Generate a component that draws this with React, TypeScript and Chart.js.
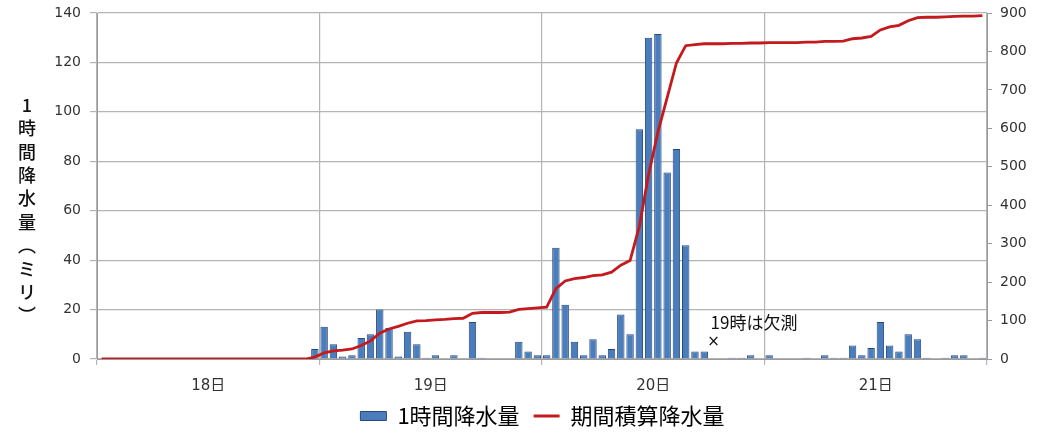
import React, { useEffect, useRef } from 'react';
import { Chart, registerables } from 'chart.js';

Chart.register(...registerables);

// ---- data ----
const dayLabels = ['18日', '19日', '20日', '21日'];
const hoursPerDay = 24;

// 1時間降水量 (mm), hourly slots 18日1時 .. 21日24時 (null = 欠測)
const hourlyRain: (number | null)[] = [
  0, 0, 0, 0, 0, 0, 0, 0, 0, 0, 0, 0, 0, 0, 0, 0, 0, 0, 0, 0, 0, 0, 0, 4,
  13, 6, 1, 1.5, 8.5, 10, 20, 12.5, 1, 11, 6, 0.5, 1.5, 0, 1.5, 0, 15, 0.5, 0, 0, 0, 7, 3, 1.5,
  1.5, 45, 22, 7, 1.5, 8, 1.5, 4, 18, 10, 93, 130, 131.5, 75.5, 85, 46, 3, 3, null, 0, 0.5, 0.5, 1.5, 0,
  1.5, 0, 0, 0, 0.5, 0, 1.5, 0.5, 0.5, 5.5, 1.5, 4.5, 15, 5.5, 3, 10, 8, 0.5, 0, 0.5, 1.5, 1.5, 0, 0.5,
];

// 期間積算降水量 (mm)
const cumulativeRain: number[] = [
  0, 0, 0, 0, 0, 0, 0, 0, 0, 0, 0, 0, 0, 0, 0, 0, 0, 0, 0, 0, 0, 0, 0, 5,
  16, 21, 23, 26, 35, 47, 67, 78, 85, 93, 99, 100, 102, 103, 105, 106, 119, 121, 121, 121, 122, 129, 131, 133,
  135, 183, 203, 209, 212, 217, 219, 226, 244, 256, 345, 480, 590, 680, 770, 815, 818, 820, 820, 820, 821, 821, 822, 822,
  823, 823, 823, 823, 824, 824, 826, 826, 827, 833, 835, 839, 856, 864, 868, 880, 888, 889, 889, 890, 891, 892, 892, 893,
];

const leftTicks = { min: 0, max: 140, step: 20 };
const rightTicks = { min: 0, max: 900, step: 100 };

const yTitleChars = ['1', '時', '間', '降', '水', '量', '︵', 'ミ', 'リ', '︶'];
const seriesNames = ['1時間降水量', '期間積算降水量'];
const missingNote = { text: '19時は欠測', mark: '×', slot: 66, textLevel: 14.8, markLevel: 7 };

// ---- styles ----
const FONT = "'DejaVu Sans', 'Noto Sans CJK JP', sans-serif";
const CJK = "'Noto Sans CJK JP', 'DejaVu Sans', sans-serif";
const BAR_FILL = '#4a7dbb';
const BAR_EDGE = '#27487a';
const LINE_COLOR = '#c41a1d';
const GRID = '#b4b4b4';
const AXIS = '#9a9a9a';
const TICK_TEXT = '#333333';

const yTitlePlugin = {
  id: 'yTitleVertical',
  afterDraw(chart: any) {
    const ctx = chart.ctx;
    ctx.save();
    ctx.fillStyle = '#111';
    ctx.font = `500 18px ${CJK}`;
    ctx.textAlign = 'center';
    ctx.textBaseline = 'middle';
    const y0 = 105;
    const step = 23.4;
    yTitleChars.forEach((c, i) => ctx.fillText(c, 27, y0 + i * step));
    ctx.restore();
  },
};

const notePlugin = {
  id: 'missingNote',
  afterDatasetsDraw(chart: any) {
    const ctx = chart.ctx;
    const xs = chart.scales.x;
    const ys = chart.scales.y;
    const px = xs.getPixelForValue(missingNote.slot + 0.5);
    ctx.save();
    ctx.fillStyle = '#111';
    ctx.font = `17px ${CJK}`;
    ctx.textAlign = 'left';
    ctx.textBaseline = 'middle';
    ctx.fillText(missingNote.text, px - 3, ys.getPixelForValue(missingNote.textLevel));
    ctx.textAlign = 'center';
    ctx.font = `15px ${FONT}`;
    ctx.fillText(missingNote.mark, px, ys.getPixelForValue(missingNote.markLevel));
    ctx.restore();
  },
};

export default function App() {
  const canvasRef = useRef<HTMLCanvasElement | null>(null);

  useEffect(() => {
    document.body.style.margin = '0';
    const canvas = canvasRef.current;
    if (!canvas) return;
    const totalSlots = dayLabels.length * hoursPerDay;

    const chart = new Chart(canvas, {
      type: 'bar',
      data: {
        datasets: [
          {
            type: 'bar',
            label: seriesNames[0],
            data: hourlyRain.map((v, i) => ({ x: i + 0.5, y: v })) as any,
            yAxisID: 'y',
            backgroundColor: BAR_FILL,
            borderColor: BAR_EDGE,
            borderWidth: 1,
            barPercentage: 0.8,
            categoryPercentage: 1,
            order: 1,
          },
          {
            type: 'line',
            label: seriesNames[1],
            data: cumulativeRain.map((v, i) => ({ x: i + 0.5, y: v })) as any,
            yAxisID: 'y1',
            borderColor: LINE_COLOR,
            backgroundColor: LINE_COLOR,
            borderWidth: 2.8,
            pointRadius: 0,
            tension: 0,
            order: 0,
          },
        ] as any,
      },
      options: {
        animation: false,
        responsive: true,
        maintainAspectRatio: false,
        layout: { padding: { top: 13, bottom: 0, left: 44, right: 0 } },
        plugins: {
          tooltip: { enabled: false },
          legend: {
            position: 'bottom',
            labels: {
              usePointStyle: true,
              pointStyleWidth: 26,
              boxHeight: 9,
              padding: 14,
              color: '#111',
              font: { size: 22, family: CJK },
              generateLabels: () => [
                {
                  text: seriesNames[0],
                  fillStyle: BAR_FILL,
                  strokeStyle: BAR_EDGE,
                  lineWidth: 1,
                  pointStyle: 'rect',
                  datasetIndex: 0,
                  hidden: false,
                } as any,
                {
                  text: seriesNames[1],
                  fillStyle: LINE_COLOR,
                  strokeStyle: LINE_COLOR,
                  lineWidth: 3,
                  pointStyle: 'line',
                  datasetIndex: 1,
                  hidden: false,
                } as any,
              ],
            },
          },
        },
        scales: {
          x: {
            type: 'linear',
            min: 0,
            max: totalSlots,
            offset: false,
            ticks: {
              stepSize: hoursPerDay / 2,
              autoSkip: false,
              maxRotation: 0,
              color: TICK_TEXT,
              font: { size: 15, family: FONT },
              padding: 12,
              callback: (v: any) =>
                v % hoursPerDay === hoursPerDay / 2 ? dayLabels[(v - hoursPerDay / 2) / hoursPerDay] : '',
            },
            grid: {
              offset: false,
              color: (ctx: any) => (ctx.tick && ctx.tick.value % hoursPerDay === 0 ? GRID : 'rgba(0,0,0,0)'),
              lineWidth: 1.2,
              tickLength: 6,
            },
            border: { color: AXIS },
            afterFit: (s: any) => {
              s.height = 32;
            },
          } as any,
          y: {
            type: 'linear',
            position: 'left',
            min: leftTicks.min,
            max: leftTicks.max,
            ticks: {
              stepSize: leftTicks.step,
              color: TICK_TEXT,
              font: { size: 14, family: FONT },
              padding: 9,
            },
            grid: { color: GRID, lineWidth: 1.2, tickLength: 7 },
            border: { color: AXIS },
            afterFit: (s: any) => {
              s.width = 53;
              s.paddingTop = 0;
              s.paddingBottom = 0;
            },
          } as any,
          y1: {
            type: 'linear',
            position: 'right',
            min: rightTicks.min,
            max: rightTicks.max,
            ticks: {
              stepSize: rightTicks.step,
              color: TICK_TEXT,
              font: { size: 14, family: FONT },
              padding: 8,
            },
            grid: { drawOnChartArea: false, color: AXIS, tickLength: 5 },
            border: { color: AXIS },
            afterFit: (s: any) => {
              s.width = 54;
              s.paddingTop = 0;
              s.paddingBottom = 0;
            },
          } as any,
        },
      },
      plugins: [yTitlePlugin, notePlugin],
    });

    return () => chart.destroy();
  }, []);

  return (
    <div style={{ position: 'relative', width: '1041px', height: '437px', background: '#fff' }}>
      <canvas ref={canvasRef} />
    </div>
  );
}
